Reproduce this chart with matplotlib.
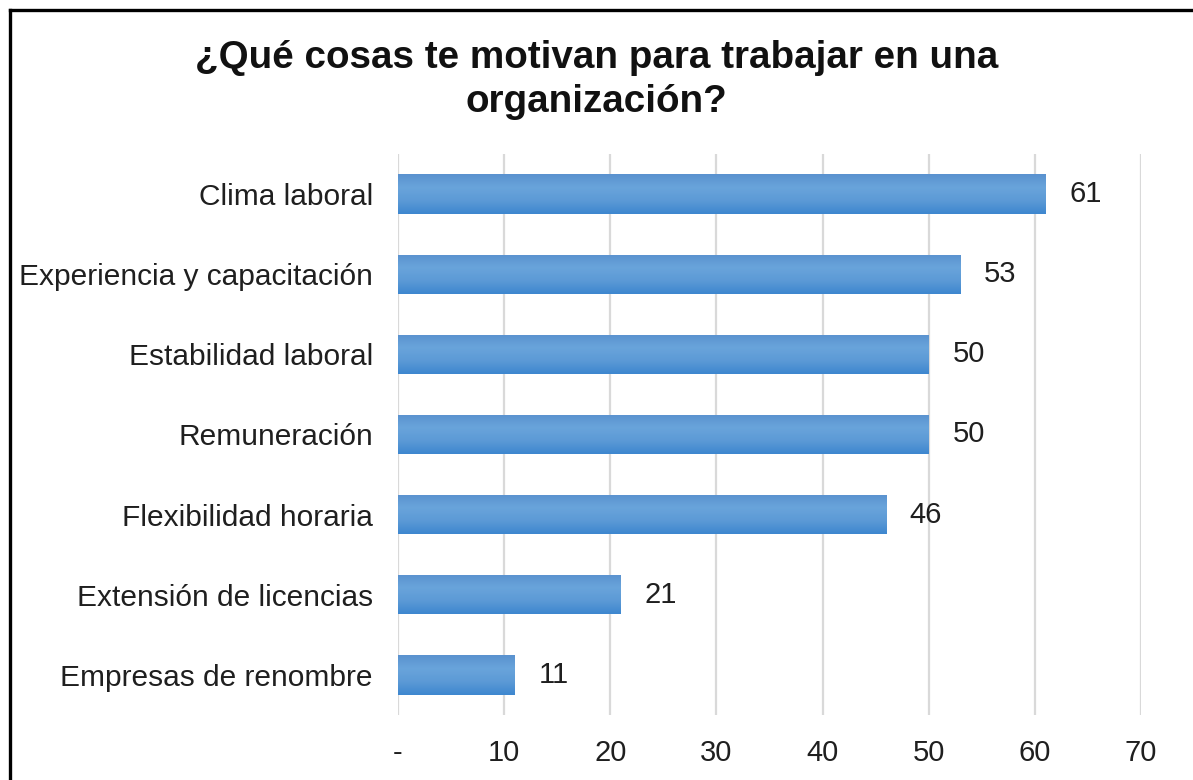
import matplotlib
matplotlib.use("Agg")
import matplotlib.pyplot as plt
import numpy as np
from matplotlib.colors import LinearSegmentedColormap
from matplotlib.lines import Line2D

plt.rcParams['font.family'] = ['Liberation Sans', 'DejaVu Sans']

categories = ['Clima laboral', 'Experiencia y capacitación', 'Estabilidad laboral',
              'Remuneración', 'Flexibilidad horaria', 'Extensión de licencias',
              'Empresas de renombre']
values = [61, 53, 50, 50, 46, 21, 11]
x_ticks = [0, 10, 20, 30, 40, 50, 60, 70]
x_tick_labels = ['-', '10', '20', '30', '40', '50', '60', '70']
title = '¿Qué cosas te motivan para trabajar en una\norganización?'

text_color = '#1f1f1f'
bar_cmap = LinearSegmentedColormap.from_list(
    'bar_grad', ['#5a92cf', '#69a4db', '#5c9ad6', '#3e87cf'])

fig = plt.figure(figsize=(11.93, 7.8), dpi=100)
ax = fig.add_axes([0.3336, 0.0833, 0.6228, 0.7193])

# first category on top
y_pos = np.arange(len(categories))[::-1]
bars = ax.barh(y_pos, values, height=0.49, color='#5b9bd5', zorder=2)

# vertical gradient inside every bar
grad = np.linspace(0, 1, 64).reshape(-1, 1)
for b in bars:
    x0, y0 = b.get_x(), b.get_y()
    w, h = b.get_width(), b.get_height()
    im = ax.imshow(grad, cmap=bar_cmap, aspect='auto',
                   extent=(x0, x0 + w, y0, y0 + h), origin='upper', zorder=3)
    im.set_clip_path(b)

for yp, v in zip(y_pos, values):
    ax.annotate(str(v), xy=(v, yp), xytext=(17, 0), textcoords='offset points',
                ha='left', va='center', fontsize=21, color=text_color)

ax.set_xlim(0, 70)
ax.set_ylim(-0.5, len(categories) - 0.5)
ax.set_xticks(x_ticks)
ax.set_xticklabels(x_tick_labels)
ax.set_yticks(y_pos)
ax.set_yticklabels(categories)
ax.tick_params(axis='x', length=0, pad=17, labelsize=21, labelcolor=text_color)
ax.tick_params(axis='y', length=0, pad=18, labelsize=21.5, labelcolor=text_color)
ax.grid(axis='x', color='#d9d9d9', linewidth=1.6, zorder=0)
ax.set_axisbelow(True)
for s in ax.spines.values():
    s.set_visible(False)

# baseline of the second title line
fig.text(0.5, 1 - 112 / 780, title, ha='center', va='baseline', fontsize=27.8,
         fontweight='bold', color='#111111', linespacing=1.3)

# frame along top and left edges
fx = 10 / 1193
fy = 1 - 10 / 780
fig.add_artist(Line2D([fx, 1], [fy, fy], transform=fig.transFigure,
                      color='black', linewidth=2.4))
fig.add_artist(Line2D([fx, fx], [0, fy], transform=fig.transFigure,
                      color='black', linewidth=2.4))

fig.savefig('out.png', dpi=100, facecolor='white')
